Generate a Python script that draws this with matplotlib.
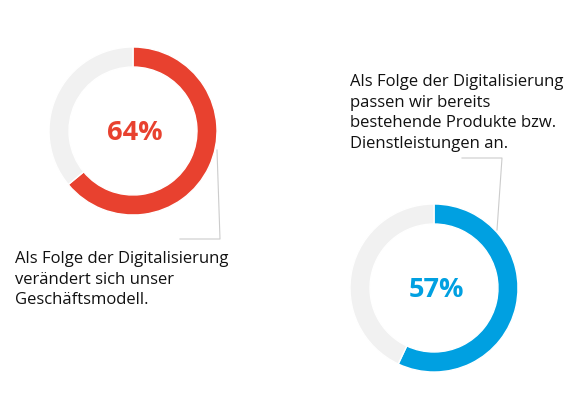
import matplotlib.pyplot as plt

# data
anteile = [64, 57]
farben = ["#E8412F", "#00A0E1"]
rest_farbe = "#F1F1F1"
labels = ["64%", "57%"]
texte = [
    "Als Folge der Digitalisierung\nverändert sich unser\nGeschäftsmodell.",
    "Als Folge der Digitalisierung\npassen wir bereits\nbestehende Produkte bzw.\nDienstleistungen an.",
]

W, H = 574, 397
fig = plt.figure(figsize=(W / 100, H / 100), dpi=100)
ax = fig.add_axes([0, 0, 1, 1])

# pixel positions (y from top), converted below
zentren = [(133, 131), (434, 288)]
radius = 84
ring = 20

for wert, farbe, (cx, cy), lab in zip(anteile, farben, zentren, labels):
    ax.pie([wert, 100 - wert], colors=[farbe, rest_farbe], center=(cx, H - cy),
           radius=radius, startangle=90, counterclock=False,
           wedgeprops=dict(width=ring, edgecolor="white", linewidth=1))
    ax.text(cx + 2, H - cy - 2, lab, ha="center", va="center", color=farbe,
            fontsize=19.5, fontweight="bold", family="Open Sans")

# connector lines
ax.plot([217, 220, 180], [H - 150, H - 239, H - 239], color="#CCCCCC", lw=0.8)
ax.plot([497, 502, 462], [H - 230, H - 158, H - 158], color="#CCCCCC", lw=0.8)

ax.text(15, H - 251, texte[0], ha="left", va="top", fontsize=12,
        family="Open Sans", color="#111111", linespacing=1.38)
ax.text(350, H - 74, texte[1], ha="left", va="top", fontsize=12,
        family="Open Sans", color="#111111", linespacing=1.38)

ax.set_xlim(0, W)
ax.set_ylim(0, H)
ax.set_aspect("equal")
ax.axis("off")

fig.savefig("out.png", dpi=100)
